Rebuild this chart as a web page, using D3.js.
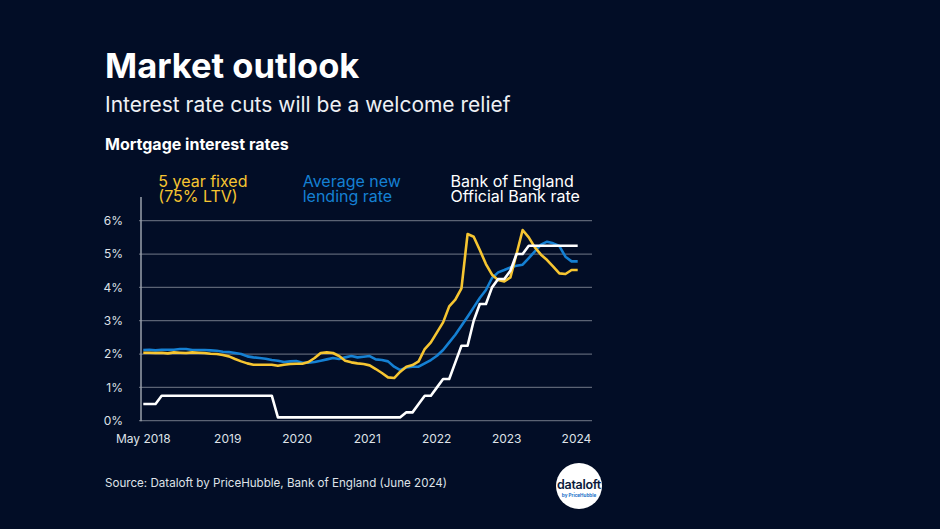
<!DOCTYPE html>
<html>
<head>
<meta charset="utf-8">
<script src="https://cdn.jsdelivr.net/npm/d3@7"></script>
<style>
  html, body { margin: 0; padding: 0; background: #020d26; }
  svg { display: block; font-family: Inter, "Noto Sans", sans-serif; }
</style>
</head>
<body>
<svg id="chart" width="940" height="529"></svg>
<script>
// Monthly data, May 2018 (index 0) to April 2024 (index 71)
const startMonth = "2018-05";
const fiveYearFixed = [
  2.04, 2.04, 2.03, 2.04, 2.02, 2.05, 2.04, 2.03, 2.05, 2.04, 2.03, 2.01,
  2.00, 1.97, 1.93, 1.85, 1.78, 1.72, 1.68, 1.68, 1.68, 1.68, 1.65, 1.68,
  1.70, 1.71, 1.71, 1.76, 1.88, 2.03, 2.05, 2.03, 1.94, 1.80, 1.75, 1.72,
  1.70, 1.66, 1.55, 1.43, 1.30, 1.28, 1.47, 1.62, 1.67, 1.78, 2.15, 2.35,
  2.65, 2.95, 3.43, 3.63, 3.97, 5.60, 5.52, 5.12, 4.70, 4.38, 4.22, 4.18,
  4.30, 5.00, 5.72, 5.50, 5.20, 4.98, 4.82, 4.62, 4.42, 4.40, 4.52, 4.52
];
const avgNewLending = [
  2.12, 2.13, 2.11, 2.13, 2.13, 2.13, 2.15, 2.15, 2.12, 2.12, 2.12, 2.11,
  2.10, 2.07, 2.06, 2.03, 2.00, 1.93, 1.90, 1.88, 1.86, 1.82, 1.80, 1.76,
  1.78, 1.79, 1.74, 1.74, 1.76, 1.80, 1.84, 1.88, 1.85, 1.90, 1.94, 1.90,
  1.92, 1.94, 1.84, 1.82, 1.78, 1.62, 1.52, 1.60, 1.62, 1.62, 1.72, 1.82,
  1.95, 2.12, 2.35, 2.58, 2.85, 3.12, 3.40, 3.68, 3.92, 4.28, 4.45, 4.52,
  4.60, 4.65, 4.68, 4.88, 5.08, 5.28, 5.37, 5.32, 5.24, 4.92, 4.78, 4.78
];
const bankRate = [
  0.50, 0.50, 0.50, 0.75, 0.75, 0.75, 0.75, 0.75, 0.75, 0.75, 0.75, 0.75,
  0.75, 0.75, 0.75, 0.75, 0.75, 0.75, 0.75, 0.75, 0.75, 0.75, 0.10, 0.10,
  0.10, 0.10, 0.10, 0.10, 0.10, 0.10, 0.10, 0.10, 0.10, 0.10, 0.10, 0.10,
  0.10, 0.10, 0.10, 0.10, 0.10, 0.10, 0.10, 0.25, 0.25, 0.50, 0.75, 0.75,
  1.00, 1.25, 1.25, 1.75, 2.25, 2.25, 3.00, 3.50, 3.50, 4.00, 4.25, 4.25,
  4.50, 5.00, 5.00, 5.25, 5.25, 5.25, 5.25, 5.25, 5.25, 5.25, 5.25, 5.25
];
const yTicks = [0, 1, 2, 3, 4, 5, 6];
const xTickLabels = ["May 2018", "2019", "2020", "2021", "2022", "2023", "2024"];
// label positions as month index along the axis (as placed in the original)
const xTickPositions = [0, 13.8, 25.15, 36.6, 47.95, 59.4, 70.8];

const seriesNames = ["5 year fixed\n(75% LTV)", "Average new\nlending rate", "Bank of England\nOfficial Bank rate"];

const colors = { bg: "#020d26", yellow: "#f6c531", blue: "#1580d3", white: "#ffffff", grid: "#5b6374", axis: "#9aa0ab", text: "#dfe2e8" };

const svg = d3.select("#chart");
svg.append("rect").attr("width", 940).attr("height", 529).attr("fill", colors.bg);

const x = d3.scaleLinear().domain([0, fiveYearFixed.length - 1]).range([143.3, 577.7]);
const y = d3.scaleLinear().domain([0, 6]).range([420.7, 220.7]);

// Titles
svg.append("text").attr("x", 105).attr("y", 77.5).attr("fill", "#fff")
  .attr("font-size", 34.5).attr("font-weight", 700).text("Market outlook");
svg.append("text").attr("x", 105).attr("y", 111.5).attr("fill", "#eef0f4")
  .attr("font-size", 21).attr("font-weight", 400).text("Interest rate cuts will be a welcome relief");
svg.append("text").attr("x", 105).attr("y", 150).attr("fill", "#fff")
  .attr("font-size", 16).attr("font-weight", 700).text("Mortgage interest rates");

// Legend labels
const legendX = [158.3, 302.7, 450.5];
const legendColors = [colors.yellow, colors.blue, colors.white];
seriesNames.forEach((name, i) => {
  name.split("\n").forEach((line, j) => {
    svg.append("text").attr("x", legendX[i]).attr("y", 186.7 + j * 15)
      .attr("fill", legendColors[i]).attr("font-size", 16).attr("font-weight", 400)
      .text(line);
  });
});

// Gridlines
const grid = svg.append("g");
grid.selectAll("line").data(yTicks).join("line")
  .attr("x1", 139).attr("x2", 592)
  .attr("y1", d => y(d)).attr("y2", d => y(d))
  .attr("stroke", colors.grid).attr("stroke-width", 1.3);

// Y axis line
svg.append("line").attr("x1", 141).attr("x2", 141).attr("y1", 197).attr("y2", y(0) + 0.5)
  .attr("stroke", colors.axis).attr("stroke-width", 1.5);

// Y tick labels
svg.append("g").selectAll("text").data(yTicks).join("text")
  .attr("x", 123).attr("y", d => y(d)).attr("dy", "0.36em")
  .attr("text-anchor", "end").attr("fill", colors.text).attr("font-size", 12)
  .text(d => d + "%");

// X tick labels
svg.append("g").selectAll("text").data(xTickLabels).join("text")
  .attr("x", (d, i) => x(xTickPositions[i])).attr("y", 442.7)
  .attr("text-anchor", "middle").attr("fill", colors.text).attr("font-size", 12)
  .text(d => d);

// Lines
const line = d3.line().x((d, i) => x(i)).y(d => y(d)).curve(d3.curveLinear);
[[avgNewLending, colors.blue], [fiveYearFixed, colors.yellow], [bankRate, colors.white]].forEach(([data, c]) => {
  svg.append("path").datum(data).attr("d", line)
    .attr("fill", "none").attr("stroke", c).attr("stroke-width", 2.6)
    .attr("stroke-linejoin", "round");
});

// Source
svg.append("text").attr("x", 105).attr("y", 487).attr("fill", colors.text)
  .attr("font-size", 11.6).text("Source: Dataloft by PriceHubble, Bank of England (June 2024)");

// Logo
const logo = svg.append("g").attr("transform", "translate(579,486)");
logo.append("circle").attr("r", 23).attr("fill", "#fff");
logo.append("text").attr("y", 3).attr("text-anchor", "middle").attr("fill", "#0b1a3a")
  .attr("font-size", 12.5).attr("font-weight", 600).attr("letter-spacing", -0.3).text("dataloft");
logo.append("text").attr("y", 11).attr("text-anchor", "middle").attr("fill", "#1a6fc9")
  .attr("font-size", 4.6).attr("font-weight", 700).text("by PriceHubble");
</script>
</body>
</html>
